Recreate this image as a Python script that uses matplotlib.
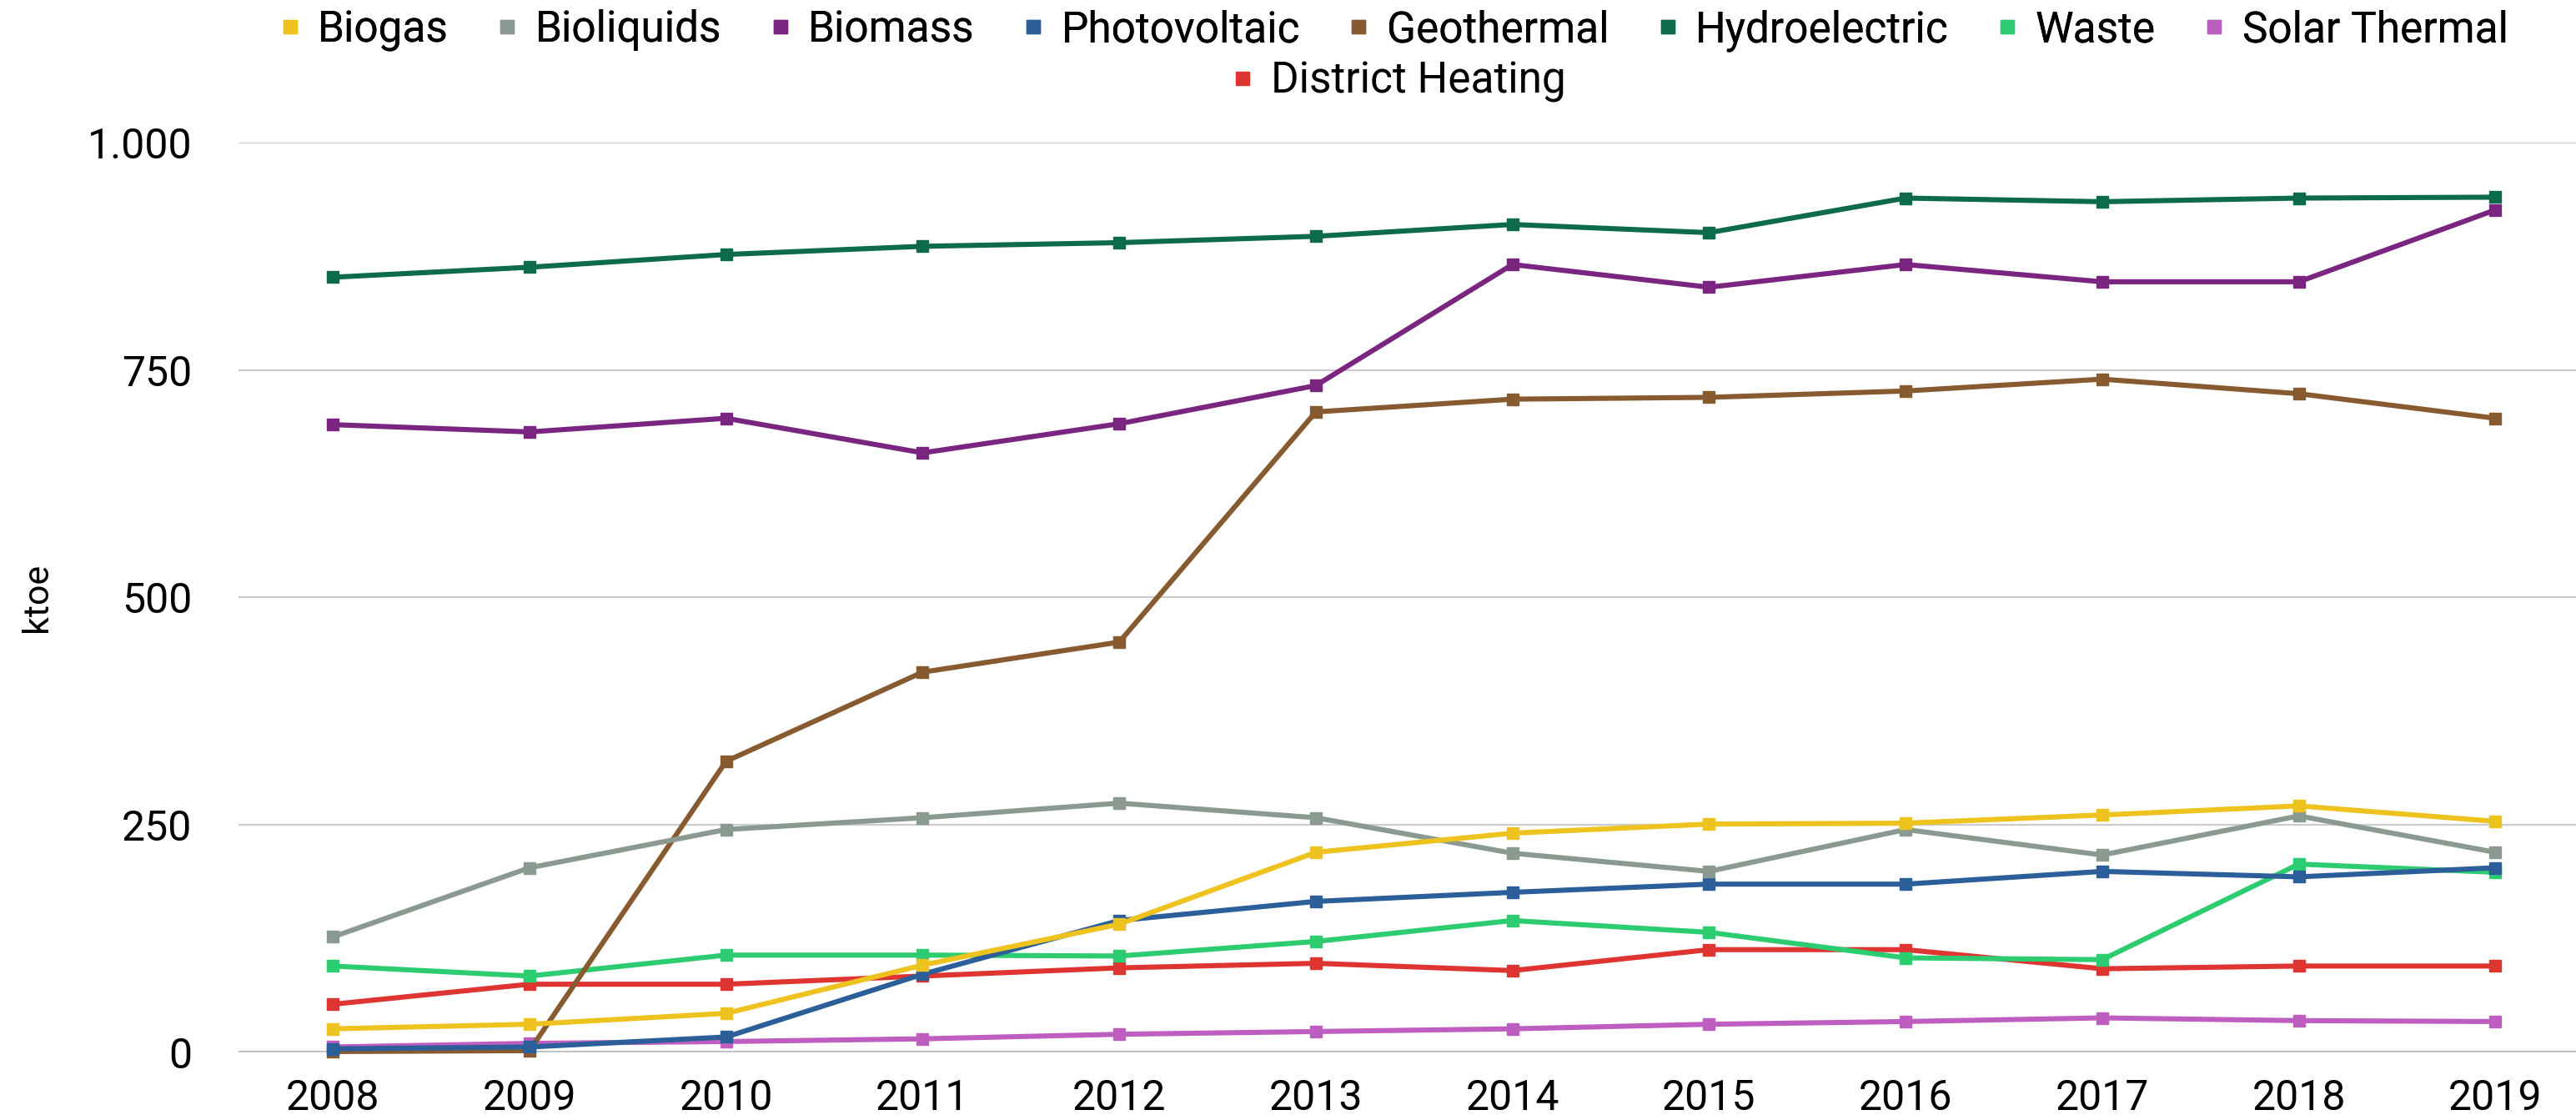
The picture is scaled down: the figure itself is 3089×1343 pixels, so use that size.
import matplotlib
matplotlib.use("Agg")
import matplotlib.pyplot as plt
from matplotlib.lines import Line2D

plt.rcParams['font.family'] = ['Roboto', 'DejaVu Sans']

years = [2008, 2009, 2010, 2011, 2012, 2013, 2014, 2015, 2016, 2017, 2018, 2019]

biogas = [26, 31, 43, 96, 141, 220, 241, 251, 252, 261, 271, 254]
bioliquids = [127, 203, 245, 258, 274, 258, 219, 199, 245, 217, 260, 220]
biomass = [690, 682, 697, 659, 691, 733, 866, 841, 866, 847, 847, 926]
photovoltaic = [4, 6, 17, 86, 145, 166, 176, 185, 185, 199, 193, 203]
geothermal = [1, 2, 320, 418, 451, 704, 718, 720, 727, 740, 724, 697]
hydroelectric = [852, 863, 877, 886, 890, 897, 910, 901, 939, 935, 939, 940]
waste = [95, 84, 107, 107, 106, 122, 145, 132, 104, 102, 207, 198]
solar_thermal = [6, 10, 12, 15, 20, 23, 26, 31, 34, 38, 35, 34]
district_heating = [53, 75, 75, 84, 93, 98, 90, 113, 113, 92, 95, 95]

series = [
    ("Biogas", biogas, "#EEC21F"),
    ("Bioliquids", bioliquids, "#8A9A91"),
    ("Biomass", biomass, "#7A2580"),
    ("Photovoltaic", photovoltaic, "#2C5F99"),
    ("Geothermal", geothermal, "#875A30"),
    ("Hydroelectric", hydroelectric, "#0D6A4C"),
    ("Waste", waste, "#2ECC71"),
    ("Solar Thermal", solar_thermal, "#BE5EC0"),
    ("District Heating", district_heating, "#DE3532"),
]

y_ticks = [0, 250, 500, 750, 1000]
y_labels = ["0", "250", "500", "750", "1.000"]

fig = plt.figure(figsize=(30.89, 13.43), dpi=100)
ax = fig.add_axes([0.0926, 0.0603, 0.9074, 0.8124])

# draw from bottom of legend order so early series sit on top like the original
for name, vals, col in reversed(series):
    ax.plot(years, vals, color=col, lw=4.4, marker='s', markersize=10,
            clip_on=False, zorder=3)

ax.set_xlim(2007.52, 2019.41)
ax.set_ylim(0, 1000)
ax.set_xticks(years)
ax.set_yticks(y_ticks)
ax.set_yticklabels(y_labels)
ax.tick_params(axis='both', length=0, labelsize=36, colors='black')
ax.tick_params(axis='x', pad=22)
ax.tick_params(axis='y', pad=40)
ax.grid(axis='y', color='#cccccc', lw=1.6, zorder=0)
ax.axhline(0, color='#b8b8b8', lw=3, zorder=1)
for s in ax.spines.values():
    s.set_visible(False)
ax.set_ylabel("ktoe", fontsize=31)
ax.yaxis.set_label_coords(-0.079, 0.5)

handles = [Line2D([], [], ls='none', marker='s', markersize=11, color=c) for _, _, c in series]
names = [n for n, _, _ in series]

leg1 = fig.legend(handles[:8], names[:8], ncol=8, loc='center',
                  bbox_to_anchor=(0.541, 0.973), frameon=False, fontsize=37,
                  handlelength=0.5, handletextpad=0.4, columnspacing=1.12,
                  borderpad=0)
fig.add_artist(leg1)
fig.legend(handles[8:], names[8:], ncol=1, loc='center',
           bbox_to_anchor=(0.543, 0.927), frameon=False, fontsize=37,
           handlelength=0.5, handletextpad=0.4, borderpad=0)

fig.savefig("out.png", dpi=100)
